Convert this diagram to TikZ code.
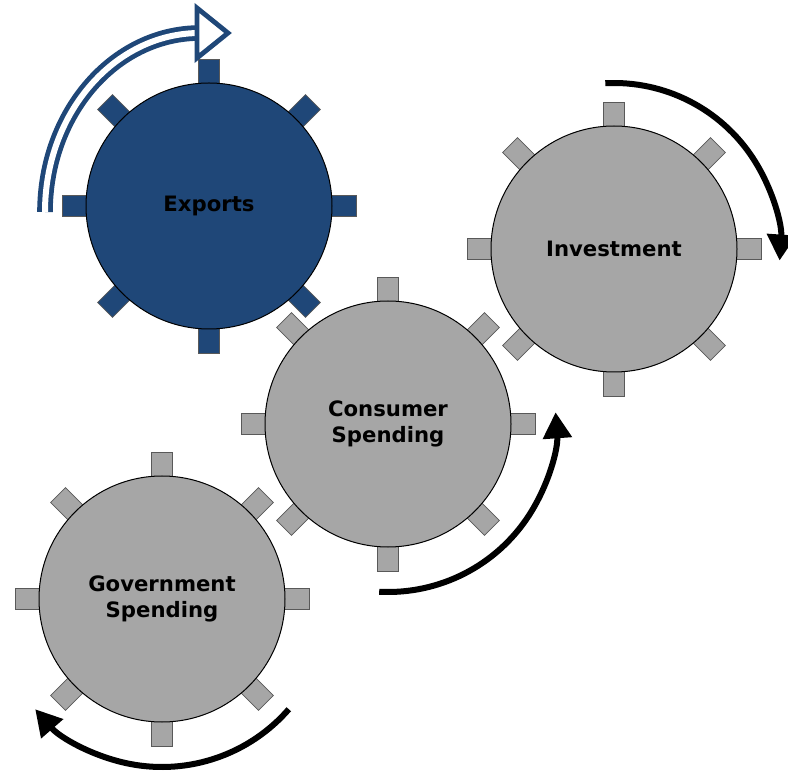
\documentclass[tikz,border=0pt]{standalone}
\usepackage{fontspec}
\setmainfont{DejaVu Sans}
\usetikzlibrary{arrows.meta,backgrounds}
\definecolor{expblue}{HTML}{1F4778}
\definecolor{geargray}{HTML}{A6A6A6}
\begin{document}
\begin{tikzpicture}[x=0.5pt,y=-0.5pt,
    gear/.style={circle,draw=black,line width=0.5pt,minimum size=123pt,inner sep=0pt,
        align=center,font=\fontsize{10.6}{13}\selectfont\bfseries},
    tooth/.style={draw=black!65,line width=0.4pt},
    spin/.style={line width=3pt,-{Triangle[length=13pt,width=14pt]}}]
            \useasboundingbox (0,0) rectangle (788,775);
            \node[gear,fill=expblue] (exp) at (209,206) {Exports};
            \node[gear,fill=geargray] (inv) at (614,249) {Investment};
            \node[gear,fill=geargray] (con) at (388,424) {Consumer\\Spending};
            \node[gear,fill=geargray] (gov) at (162,599) {Government\\Spending};
            \begin{scope}[on background layer]
                \foreach \g/\c in {exp/expblue,inv/geargray,con/geargray,gov/geargray}
                    \foreach \a in {0,45,...,315}
                        \draw[tooth,fill=\c,shift={(\g.center)},rotate=\a]
                        (-5.25pt,50pt) rectangle (5.25pt,73.5pt);
            \end{scope}
            \draw[expblue,line width=2.4pt,double=white,double distance=3pt]
            ([shift={(-82pt,-3pt)}]exp.center) arc[start angle=180,end angle=90,x radius=77.5pt,y radius=89.5pt];
            \draw[expblue,line width=2.4pt,fill=white,line join=miter]
            ([shift={(-6pt,99pt)}]exp.center) -- ([shift={(9.5pt,86.5pt)}]exp.center)
            -- ([shift={(-6pt,74pt)}]exp.center) -- cycle;
            \draw[spin] ([shift={(93:83pt)}]inv.center) arc[start angle=93,end angle=-4,radius=83pt];
            \draw[spin] ([shift={(267:84pt)}]con.center) arc[start angle=267,end angle=364,radius=84pt];
            \draw[spin] ([shift={(-41:84pt)}]gov.center) arc[start angle=-41,end angle=-139,radius=84pt];
        \end{tikzpicture}
\end{document}
